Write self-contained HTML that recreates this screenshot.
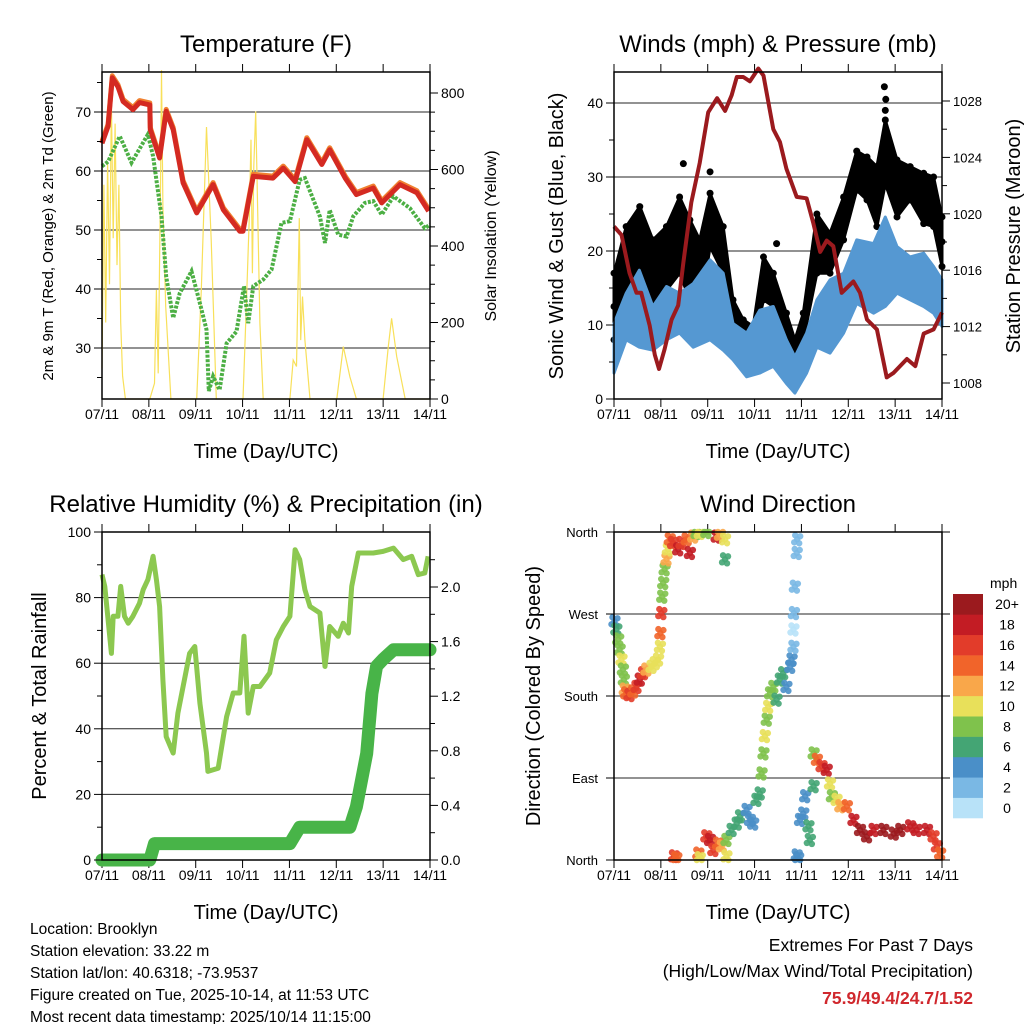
<!DOCTYPE html>
<html><head><meta charset="utf-8"><style>
html,body{margin:0;padding:0;background:#fff;}
svg{display:block;font-family:"Liberation Sans",sans-serif;}
</style></head><body>
<svg id="root" width="1024" height="1024" viewBox="0 0 1024 1024" xmlns="http://www.w3.org/2000/svg">
<g id="g1"></g>
<g id="g2"></g>
<g id="g3"></g>
<g id="g4"></g>
<g font-size="15.5" fill="#000">
<text x="30" y="934">Location: Brooklyn</text>
<text x="30" y="956">Station elevation: 33.22 m</text>
<text x="30" y="978">Station lat/lon: 40.6318; -73.9537</text>
<text x="30" y="1000">Figure created on Tue, 2025-10-14, at 11:53 UTC</text>
<text x="30" y="1022">Most recent data timestamp: 2025/10/14 11:15:00</text>
</g>
<g font-size="17.5" text-anchor="end">
<text x="973" y="951">Extremes For Past 7 Days</text>
<text x="973" y="977">(High/Low/Max Wind/Total Precipitation)</text>
<text x="973" y="1004" fill="#d0282d" font-weight="bold">75.9/49.4/24.7/1.52</text>
</g>
</svg>
<script>
const NS="http://www.w3.org/2000/svg";
const dayLabels=["07/11","08/11","09/11","10/11","11/11","12/11","13/11","14/11"];
// Temperature
const tempT=[0,.13,.22,.34,.45,.66,.8,1.02,1.03,1.23,1.37,1.52,1.73,2.02,2.37,2.59,2.94,3.01,3.23,3.65,3.87,4.12,4.37,4.69,4.86,5.19,5.43,5.79,5.97,6.36,6.72,6.97];
const tempV=[64.7,67.6,75.8,74.3,71.8,70.4,71.6,71.2,67,62.2,70.1,67,58,52.9,57.7,53.4,49.8,49.8,59.1,58.8,60.5,58.2,65.3,61.1,63.6,58.8,56,57.1,54.6,57.7,56.3,53.2];
const dewT=[0,.13,.38,.63,.98,1.09,1.27,1.37,1.52,1.66,1.91,2.09,2.23,2.28,2.37,2.51,2.66,2.87,3.03,3.12,3.23,3.44,3.62,3.83,4.01,4.22,4.33,4.65,4.76,4.86,5.04,5.22,5.36,5.61,5.79,5.97,6.22,6.57,6.89,7];
const dewV=[60.8,61.6,65.9,61.4,66.2,62.5,52.3,42.1,35.1,39.3,43,37.6,33.1,22.7,25.2,22.9,30.8,32.8,40.5,34.2,40.5,41.6,43.3,51.2,51.5,58.5,58.8,52.3,47.8,53.4,49.2,48.9,52.3,54.6,54.9,52.6,55.7,53.7,50.3,50.9];
const solarT=[0,.04,.08,.12,.16,.2,.24,.28,.32,.36,.4,.44,.5,1.02,1.12,1.16,1.2,1.25,1.27,1.3,1.36,1.47,2.02,2.12,2.23,2.33,2.44,3.01,3.08,3.14,3.18,3.21,3.24,3.28,3.32,3.37,3.44,4.01,4.08,4.15,4.21,4.24,4.28,4.33,4.44,5.01,5.15,5.29,5.43,6.0,6.11,6.18,6.29,6.47,7];
const solarV=[80,560,200,620,300,780,420,720,350,560,200,60,0,0,41,285,67,573,860,503,242,0,0,285,711,416,0,0,242,460,678,329,608,752,503,198,0,0,102,85,473,154,268,154,0,0,137,58,0,0,137,211,111,0,0];
const tempTicks=[30,40,50,60,70];
const solarTicks=[0,200,400,600,800];
// Winds
const presT=[0,.16,.33,.48,.58,.76,.87,.96,1.08,1.23,1.37,1.48,1.65,1.83,2.01,2.2,2.37,2.51,2.62,2.76,2.9,3.08,3.19,3.4,3.54,3.68,3.9,4.11,4.25,4.4,4.54,4.68,4.86,5.11,5.25,5.4,5.61,5.82,5.96,6.25,6.43,6.61,6.82,7];
const presV=[1019.1,1018.5,1015.8,1014.4,1014.4,1012.1,1010,1009,1010.4,1012.5,1013.5,1016.5,1020.8,1023.6,1027.2,1028.2,1027.3,1028.4,1029.7,1029.7,1029.4,1030.3,1029.8,1026,1025.1,1023.2,1021.2,1021.1,1019.4,1017.3,1018.1,1017.7,1014.4,1015.2,1014.4,1012.5,1011.8,1008.4,1008.7,1009.7,1009.2,1011.5,1011.8,1013];
const windT=[0,.26,.54,.83,1.12,1.4,1.69,2.05,2.33,2.54,2.83,3.11,3.4,3.68,3.86,4.11,4.33,4.61,4.9,5.18,5.54,5.79,6.04,6.32,6.61,6.82,7];
const windLo=[3.5,8,7,6.6,8,8.9,7,8,6.6,5.3,3,3.5,4.4,2.1,.8,3.5,7,6.2,8.9,12.9,11.6,12.5,14.3,13.4,12.5,11.6,9.8];
const windHi=[10.2,14.3,17.4,12.5,15.2,14.3,15.6,18.8,17,10.2,8.9,12,12.5,8,5.7,8.9,13.4,16.1,17,21.5,21,24.6,20.6,19.2,19.7,17.9,16.1];
const gustT=[0,.26,.55,.83,1.12,1.4,1.62,1.83,2.05,2.33,2.54,2.76,2.97,3.19,3.4,3.68,3.86,4.04,4.33,4.61,4.9,5.18,5.4,5.61,5.79,6.04,6.32,6.61,6.82,7];
const gustLo=[8,12.5,15.2,12.9,14.7,17,13.4,11.6,20.6,17,9.8,6.6,7,13.4,12.5,6.6,4,8,17,17,21.5,28.2,26.9,23.3,29.1,24.6,26.9,23.7,23.3,17.9];
const gustHi=[17,23.3,26,21.5,23.3,27.3,24.2,21.5,27.8,23.3,13.4,10.7,9.8,19.2,17,11.6,8,11.6,25,22.4,27.3,33.5,32.7,31.4,37.7,32.3,31.4,30.5,30,24.6];
const gustOutT=[1.48,5.77,3.47,2.05,5.8,5.79];
const gustOutV=[31.8,42.2,21,30.7,40.5,39];
const windTicks=[0,10,20,30,40];
const presTicks=[1008,1012,1016,1020,1024,1028];
// RH & precip
const rhT=[0,.06,.13,.2,.24,.34,.4,.48,.56,.66,.8,.88,.98,1.09,1.16,1.23,1.3,1.37,1.52,1.62,1.73,1.87,1.98,2.09,2.23,2.26,2.48,2.66,2.8,2.94,3.03,3.12,3.23,3.37,3.58,3.72,3.87,4.01,4.12,4.22,4.33,4.44,4.65,4.76,4.86,5.04,5.15,5.26,5.33,5.47,5.79,6.0,6.22,6.43,6.61,6.75,6.89,6.96];
const rhV=[87,83.4,73.2,63,74.3,74.3,83.4,74.3,72.2,74.3,78.3,82.4,85.5,92.6,85.5,77.3,54.9,37.6,32.6,44.8,52.9,63,65.1,47.8,32.6,27,28,43.7,50.9,50.9,68.2,44.8,52.9,52.9,57,67.1,71.2,74.3,94.6,91.6,82.4,77.3,75.3,59,71.2,68.2,72.2,69.2,83.4,93.6,93.6,94.1,95.1,91.6,92.6,87,87.5,92.6];
const prT=[0,1.02,1.12,4.01,4.22,5.29,5.43,5.65,5.76,5.86,6.0,6.22,7];
const prV=[0,0,.12,.12,.24,.24,.39,.78,1.22,1.42,1.47,1.54,1.54];
const rhTicks=[0,20,40,60,80,100];
const prTicks=["0.0","0.4","0.8","1.2","1.6","2.0"];
// Wind direction
const dirT=[.01,.05,.09,.12,.16,.19,.21,.23,.26,.33,.41,.48,.55,.62,.69,.8,.87,.94,.98,.99,1.01,1.03,1.05,1.08,1.12,1.15,1.19,1.26,1.37,1.44,1.55,1.62,1.69,1.76,1.83,1.97,2.19,2.26,2.37,2.37,1.28,1.33,1.8,1.83,1.97,2.05,2.12,2.22,2.3,2.4,2.4,2.51,2.62,2.69,2.83,2.9,2.97,3.04,3.11,3.15,3.19,3.22,3.26,3.29,3.33,3.4,3.47,3.54,3.61,3.68,3.76,3.79,3.83,3.83,3.84,3.86,3.9,3.91,3.9,3.93,3.97,4.04,4.08,4.15,4.18,4.26,4.26,4.33,4.43,4.54,4.61,4.65,4.75,4.83,4.97,5.11,5.25,5.4,5.54,5.75,5.97,6.11,6.32,6.46,6.68,6.82,6.89,6.96];
const dirV=[262,253,242,231,220,209,198,187,183,181,185,190,198,205,209,212,216,220,234,249,271,289,304,319,330,341,352,348,341,348,352,337,355,359,359,360,355,357,352,330,4,2,7,2,26,22,11,18,15,22,4,33,40,48,55,44,40,66,73,95,117,136,154,168,183,190,176,198,205,190,212,220,234,253,271,300,337,352,5,2,44,51,70,37,22,81,117,110,103,99,84,70,66,59,59,44,33,26,33,33,29,33,37,33,33,26,15,7];
const dirSpd=[4,6,8,8,10,8,8,12,14,16,14,16,18,16,12,10,10,10,10,14,16,8,8,8,12,10,14,16,18,16,14,18,12,8,10,8,18,12,10,6,16,14,14,10,16,18,16,14,12,8,10,6,6,6,4,4,4,6,6,8,8,10,8,10,8,8,6,6,6,4,4,4,2,0,2,2,2,2,4,4,4,4,4,6,6,6,8,14,16,18,10,8,10,12,14,18,20,20,18,20,20,20,18,18,18,16,16,14];
const dirTicks=["North","East","South","West","North"];
const spdColors=["#b8e2f8","#7ab8e4","#4a8fc8","#44a574","#7fc24c","#e8e05a","#f9a74a","#f1642a","#e23c2a","#c31c24","#9b1a1e"];
const spdLabels=["0","2","4","6","8","10","12","14","16","18","20+"];

function el(tag,attrs,parent,text){const e=document.createElementNS(NS,tag);for(const k in attrs)e.setAttribute(k,attrs[k]);if(text!==undefined)e.textContent=text;parent.appendChild(e);return e;}
function lin(d0,d1,r0,r1){return v=>r0+(v-d0)*(r1-r0)/(d1-d0);}
function frame(g,x0,x1,y0,y1,title,tx){
  const t=el('text',{x:(x0+x1)/2+(tx||0),y:y0-20,'font-size':24,'text-anchor':'middle'},g,title);
  
  const xs=lin(0,7,x0,x1);
  for(let d=0;d<=7;d++){const x=xs(d);
    el('line',{x1:x,x2:x,y1:y1,y2:y1+8,stroke:'#000','stroke-width':1},g);
    el('line',{x1:x,x2:x,y1:y0,y2:y0-8,stroke:'#000','stroke-width':1},g);
    const l=el('text',{x:x,y:y1+20,'font-size':14,'text-anchor':'middle'},g,dayLabels[d]);
    }
  const at=el('text',{x:(x0+x1)/2,y:y1+59,'font-size':20,'text-anchor':'middle'},g,'Time (Day/UTC)');
  
  return xs;
}
function box(g,x0,x1,y0,y1){const r=el('rect',{x:x0,y:y0,width:x1-x0,height:y1-y0,fill:'none',stroke:'#000','stroke-width':1.5},g);}
function grid(g,x0,x1,y){el('line',{x1:x0,x2:x1,y1:y,y2:y,stroke:'#000','stroke-width':1,opacity:.85},g);}
function ticksY(g,x,ys,vals,side,fmt,fs,minor){
  vals.forEach(v=>{const y=ys(v);const dx=side<0?-8:8;
    el('line',{x1:x,x2:x+dx,y1:y,y2:y,stroke:'#000'},g);
    const t=el('text',{x:side<0?x-11:x+11,y:y+5,'font-size':fs||14,'text-anchor':side<0?'end':'start'},g,fmt?fmt(v):v);
    });
  (minor||[]).forEach(v=>{const y=ys(v);el('line',{x1:x,x2:x+(side<0?-5:5),y1:y,y2:y,stroke:'#000'},g);});
}
function vlabel(g,x,y,text,fs,name){const t=el('text',{x:x,y:y,'font-size':fs,'text-anchor':'middle',transform:`rotate(-90 ${x} ${y})`},g,text);}
function path(xs,ys,T,V){return T.map((t,i)=>(i?'L':'M')+xs(t).toFixed(1)+','+ys(V[i]).toFixed(1)).join('');}

// ---- Panel 1
(function(){const g=document.getElementById('g1');const x0=102,x1=430,y0=72,y1=399;
 const xs=frame(g,x0,x1,y0,y1,'Temperature (F)');
 const ys=lin(30,70,348,112);const ss=lin(0,800,399,93);
 tempTicks.forEach(v=>grid(g,x0,x1,ys(v)));
 const sp=el('path',{d:path(xs,ss,solarT,solarV),fill:'none',stroke:'#f8e05a','stroke-width':1.2},g);
 
 const dp=el('path',{d:path(xs,ys,dewT,dewV),fill:'none',stroke:'#4caf44','stroke-width':4,'stroke-dasharray':'3 1.5'},g);
 
 const op=el('path',{d:path(xs,v=>ys(v)-2,tempT,tempV),fill:'none',stroke:'#f08030','stroke-width':5,'stroke-linejoin':'round'},g);
 
 const rp=el('path',{d:path(xs,ys,tempT,tempV),fill:'none',stroke:'#d42a22','stroke-width':5,'stroke-linejoin':'round'},g);
 
 box(g,x0,x1,y0,y1);
 ticksY(g,x0,ys,tempTicks,-1,null,14,[25,35,45,55,65,75]);
 ticksY(g,x1,ss,solarTicks,1,null,14,[50,100,150,250,300,350,450,500,550,650,700,750]);
 vlabel(g,53,236,'2m & 9m T (Red, Orange) & 2m Td (Green)',15,'temp-y-axis-title');
 vlabel(g,496,236,'Solar Insolation (Yellow)',16,'solar-y-axis-title');
})();
// ---- Panel 2
(function(){const g=document.getElementById('g2');const x0=614,x1=942,y0=72,y1=399;
 const xs=frame(g,x0,x1,y0,y1,'Winds (mph) & Pressure (mb)');
 const ys=lin(0,40,399,103);const ps=lin(1008,1028,383,101);
 windTicks.forEach(v=>grid(g,x0,x1,ys(v)));
 const band=(T,L,H,c,name)=>{const d=path(xs,ys,T,H)+T.slice().reverse().map((t,i)=>'L'+xs(t).toFixed(1)+','+ys(L[L.length-1-i]).toFixed(1)).join('')+'Z';
   const p=el('path',{d:d,fill:c,stroke:c,'stroke-width':3,'stroke-linejoin':'round'},g);};
 band(gustT,gustLo,gustHi,'#000','gust-band');
 gustT.forEach((t,i)=>{[gustLo[i],gustHi[i],(gustLo[i]+gustHi[i])/2].forEach(v=>{const c=el('circle',{cx:xs(t),cy:ys(v),r:3.5,fill:'#000'},g);});});
 gustOutT.forEach((t,i)=>{const c=el('circle',{cx:xs(t),cy:ys(gustOutV[i]),r:3.5,fill:'#000'},g);});
 band(windT,windLo,windHi,'#5598d2','wind-band');
 const pp=el('path',{d:path(xs,ps,presT,presV),fill:'none',stroke:'#9b1a1e','stroke-width':4,'stroke-linejoin':'round'},g);
 
 box(g,x0,x1,y0,y1);
 ticksY(g,x0,ys,windTicks,-1,null,14,[5,15,25,35]);
 ticksY(g,x1,ps,presTicks,1,null,13,[1010,1014,1018,1022,1026]);
 vlabel(g,563,236,'Sonic Wind & Gust (Blue, Black)',20,'wind-y-axis-title');
 vlabel(g,1020,236,'Station Pressure (Maroon)',20,'pressure-y-axis-title');
})();
// ---- Panel 3
(function(){const g=document.getElementById('g3');const x0=102,x1=430,y0=532,y1=860;
 const xs=frame(g,x0,x1,y0,y1,'Relative Humidity (%) & Precipitation (in)',0);
 const ys=lin(0,100,860,532);const ps=lin(0,2,860,587);
 [20,40,60,80].forEach(v=>grid(g,x0,x1,ys(v)));
 const rp=el('path',{d:path(xs,ys,rhT,rhV),fill:'none',stroke:'#8cc850','stroke-width':5,'stroke-linejoin':'round'},g);
 
 const pp=el('path',{d:path(xs,ps,prT,prV),fill:'none',stroke:'#48b448','stroke-width':13,'stroke-linejoin':'round','stroke-linecap':'round'},g);
 
 box(g,x0,x1,y0,y1);
 ticksY(g,x0,ys,rhTicks,-1,null,14,[10,30,50,70,90]);
 ticksY(g,x1,v=>ps(+v),prTicks,1,null,14,[.2,.6,1,1.4,1.8,2.2]);
 vlabel(g,46,696,'Percent & Total Rainfall',20,'rh-y-axis-title');
})();
// ---- Panel 4
(function(){const g=document.getElementById('g4');const x0=614,x1=942,y0=532,y1=860;
 const xs=frame(g,x0,x1,y0,y1,'Wind Direction');
 const ys=lin(0,360,860,532);
 [90,180,270].forEach(v=>grid(g,x0,x1,ys(v)));
 const offs=[[0,0],[3,-3],[-3,3],[2,4],[-2,-4]];
 dirT.forEach((t,i)=>{const c=spdColors[Math.min(10,Math.round(dirSpd[i]/2))];
   offs.forEach(o=>{const d=el('circle',{cx:xs(t)+o[0],cy:Math.min(y1,Math.max(y0,ys(dirV[i])+o[1])),r:3.2,fill:c,opacity:.9},g);
   });});
 box(g,x0,x1,y0,y1);
 dirTicks.forEach((lab,i)=>{const y=ys(i*90);el('line',{x1:x0,x2:x0-8,y1:y,y2:y,stroke:'#000'},g);el('line',{x1:x1,x2:x1+8,y1:y,y2:y,stroke:'#000'},g);
   const t=el('text',{x:x0-16,y:y+5,'font-size':13,'text-anchor':'end'},g,lab);});
 vlabel(g,540,696,'Direction (Colored By Speed)',20,'direction-y-axis-title');
 const lg=el('g',{},g);
 const mt=el('text',{x:990,y:588,'font-size':14},lg,'mph');
 const bh=(818-594)/11;
 spdColors.forEach((c,i)=>{const y=818-(i+1)*bh;
   const r=el('rect',{x:953,y:y,width:30,height:bh+0.3,fill:c},lg);
   const t=el('text',{x:1007,y:y+bh/2+5,'font-size':14,'text-anchor':'middle'},lg,spdLabels[i]);});
})();
</script>
</body></html>
